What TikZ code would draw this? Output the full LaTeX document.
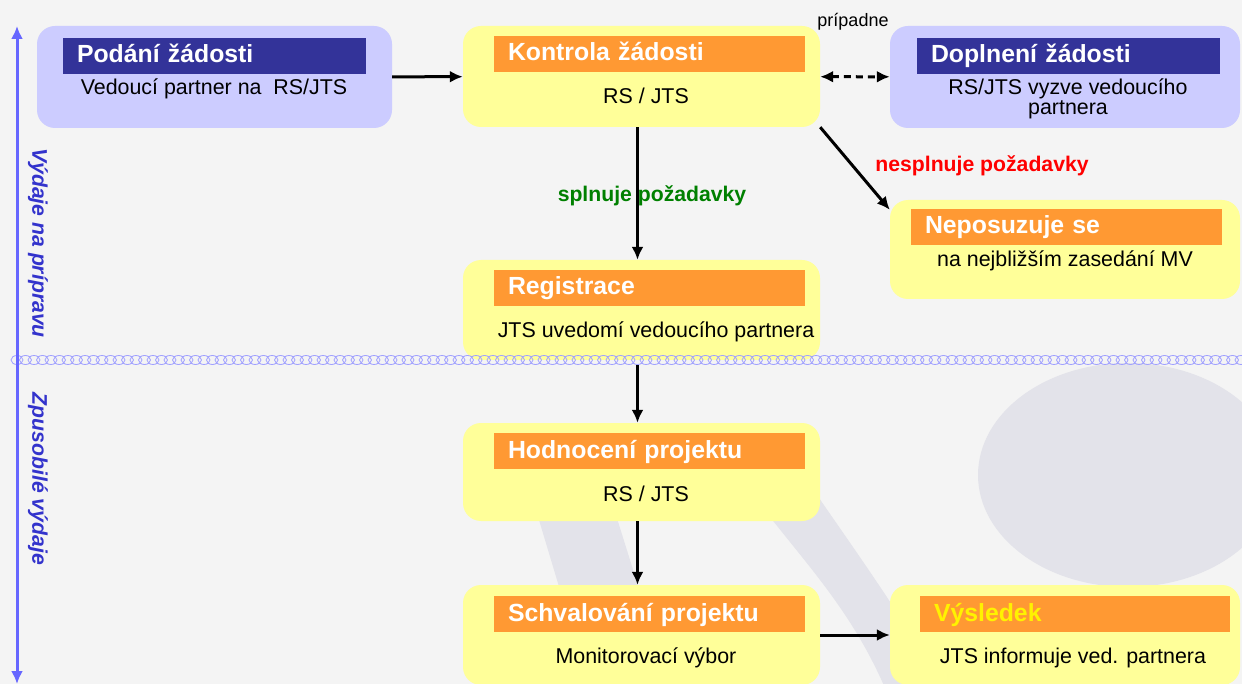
\documentclass[tikz,border=0pt]{standalone}
\usepackage{fontspec}
\setmainfont{Liberation Sans}
\usetikzlibrary{arrows.meta, positioning}

\definecolor{pozadi}{HTML}{F4F4F4}
\definecolor{znak}{HTML}{E3E3EA}
\definecolor{modra}{HTML}{CCCCFF}
\definecolor{tmavomodra}{HTML}{333399}
\definecolor{zluta}{HTML}{FFFF99}
\definecolor{oranzova}{HTML}{FF9933}
\definecolor{zelena}{HTML}{008000}
\definecolor{osamodra}{HTML}{6666FF}
\definecolor{textmodra}{HTML}{3333CC}
\definecolor{vlnka}{HTML}{A0A0FF}

\newcommand{\titulfont}{\fontsize{24.8}{28}\selectfont\bfseries}
\newcommand{\popisfont}{\fontsize{21.4}{20}\selectfont}
\newcommand{\stitekfont}{\fontsize{21.2}{24}\selectfont\bfseries}

\tikzset{
  modrybox/.style={rounded corners=18pt, fill=modra, inner sep=0pt, minimum width=352pt, minimum height=102pt},
  zlutybox/.style={rounded corners=18pt, fill=zluta, inner sep=0pt, minimum width=357pt, minimum height=100pt},
  hlavicka/.style={inner xsep=14pt, inner ysep=0pt, minimum height=36pt, align=left,
                   text height=17pt, text depth=3pt, font=\titulfont, text=white},
  modrahlava/.style={hlavicka, fill=tmavomodra},
  oranzhlava/.style={hlavicka, fill=oranzova},
  popis/.style={font=\popisfont, inner sep=0pt, anchor=base},
  tok/.style={->, line width=3pt},
  oddelovac/.style={vlnka, line width=0.8pt}
}

\begin{document}
\begin{tikzpicture}[x=1pt, y=-1pt, >={Latex[length=13pt,width=12pt]}]
    % pozadi a logo
    \fill[pozadi] (0,0) rectangle (1242,684);
    \useasboundingbox (0,0) rectangle (1242,684);
    \fill[znak] (1128,475) ellipse (150pt and 112pt);
    \fill[znak] (527,480) -- (575,640) -- (655,640) -- (605,480) -- cycle;
    \fill[znak] (735,470) .. controls (790,550) and (850,600) .. (890,700)
        -- (950,700) .. controls (900,610) and (840,530) .. (800,470) -- cycle;

    % bloky
    \node[modrybox, minimum width=355pt] (podani) at (214.5,77) {};
    \node[zlutybox, minimum height=101pt] (kontrola) at (641.5,76.5) {};
    \node[modrybox, minimum width=350pt] (doplneni) at (1065,77) {};
    \node[zlutybox, minimum width=350pt, minimum height=99pt] (neposuzuje) at (1065,249.5) {};
    \node[zlutybox] (registrace) at (641.5,310) {};
    \node[zlutybox, minimum height=98pt] (hodnoceni) at (641.5,472) {};
    \node[zlutybox] (schvalovani) at (641.5,635) {};
    \node[zlutybox, minimum width=350pt] (vysledek) at (1065,635) {};

    % hlavicky
    \node[modrahlava, text width=275pt] (podaniHlava) at (214.5,56) {Podání žádosti};
    \node[oranzhlava, text width=283pt] (kontrolaHlava) at (649.5,54) {Kontrola žádosti};
    \node[modrahlava, text width=275pt] (doplneniHlava) at (1068.5,56) {Doplnení žádosti};
    \node[oranzhlava, text width=283pt] (neposuzujeHlava) at (1066.5,227) {Neposuzuje se};
    \node[oranzhlava, text width=283pt] (registraceHlava) at (649.5,288) {Registrace};
    \node[oranzhlava, text width=283pt] (hodnoceniHlava) at (649.5,451) {Hodnocení projektu};
    \node[oranzhlava, text width=283pt] (schvalovaniHlava) at (649.5,614) {Schvalování projektu};
    \node[oranzhlava, text width=282pt, text=yellow] (vysledekHlava) at (1075,614) {Výsledek};

    % popisy
    \node[popis] (podaniText) at (214,95) {Vedoucí partner na\ \ RS/JTS};
    \node[popis] (kontrolaText) at (646,104) {RS / JTS};
    \node[popis, anchor=center, align=center] (doplneniText) at (1068,99) {RS/JTS vyzve vedoucího\\partnera};
    \node[popis] (neposuzujeText) at (1065,267) {na nejbližším zasedání MV};
    \node[popis] (registraceText) at (656,338) {JTS uvedomí vedoucího partnera};
    \node[popis] (hodnoceniText) at (646,501) {RS / JTS};
    \node[popis] (schvalovaniText) at (646,663) {Monitorovací výbor};
    \node[popis] (vysledekText) at (1073,663) {JTS informuje ved. partnera};

    % sipky
    \draw[tok] (podani) -- (kontrola);
    \draw[<->, line width=3pt, dash pattern=on 7pt off 5pt] (kontrola) -- (doplneni);
    \draw[tok] (kontrola.south east) -- ([yshift=-10pt]neposuzuje.north west);
    \draw[tok] ([xshift=-4pt]kontrola.south) -- ([xshift=-4pt]registrace.north);
    \draw[tok] ([xshift=-4pt,yshift=-5pt]registrace.south) -- ([xshift=-4pt]hodnoceni.north);
    \draw[tok] ([xshift=-4pt]hodnoceni.south) -- ([xshift=-4pt]schvalovani.north);
    \draw[tok] (schvalovani) -- (vysledek);

    % stitky
    \node[font=\fontsize{18}{20}\selectfont, inner sep=0pt, anchor=base] (pripadne) at (853,27) {prípadne};
    \node[font=\stitekfont, text=red, inner sep=0pt, anchor=base] (nesplnuje) at (982,172) {nesplnuje požadavky};
    \node[font=\stitekfont, text=zelena, inner sep=0pt, anchor=base] (splnuje) at (652,202) {splnuje požadavky};

    % oddelovac obdobi
    \foreach \i in {0,...,145}
        \draw[oddelovac] (17+\i*8.5,360) ellipse (6pt and 4.5pt);

    % bocni osa
    \coordinate (osaHore) at (17,26);
    \coordinate (osaDole) at (17,684);
    \draw[<->, osamodra, line width=3pt] (osaDole) -- (osaHore);
    \node[font=\stitekfont\itshape, text=textmodra, rotate=-90] (priprava) at (38,243) {Výdaje na prípravu};
    \node[font=\stitekfont\itshape, text=textmodra, rotate=-90] (zpusobile) at (38,479) {Zpusobilé výdaje};
\end{tikzpicture}
\end{document}
